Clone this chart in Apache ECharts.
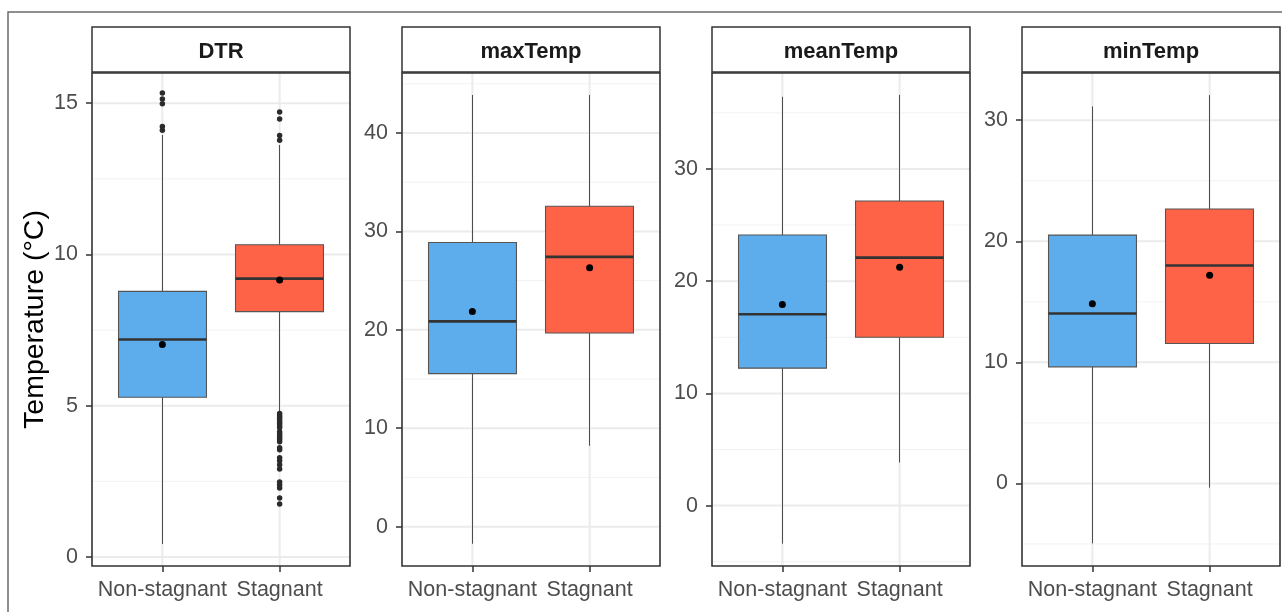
<!DOCTYPE html>
<html>
<head>
<meta charset="utf-8">
<script src="https://cdn.jsdelivr.net/npm/echarts@6/dist/echarts.min.js"></script>
<style>
html,body{margin:0;padding:0;background:#fff;}
#chart{width:1282px;height:612px;}
</style>
</head>
<body>
<div id="chart"></div>
<script>
// ---------------- data ----------------
const categories = ['Non-stagnant', 'Stagnant'];
const panelNames = ['DTR', 'maxTemp', 'meanTemp', 'minTemp'];

// per group: [lower whisker, Q1, median, Q3, upper whisker]
const dtrBox      = [[0.43, 5.28, 7.19, 8.78, 13.95], [4.77, 8.11, 9.20, 10.32, 13.62]];
const maxTempBox  = [[-1.74, 15.55, 20.86, 28.87, 43.87], [8.22, 19.68, 27.41, 32.56, 43.87]];
const meanTempBox = [[-3.39, 12.25, 17.05, 24.11, 36.43], [3.84, 15.00, 22.10, 27.14, 36.60]];
const minTempBox  = [[-4.95, 9.63, 14.04, 20.51, 31.14], [-0.35, 11.56, 18.00, 22.67, 32.08]];

const dtrMean      = [7.02, 9.16];
const maxTempMean  = [21.86, 26.30];
const meanTempMean = [17.93, 21.23];
const minTempMean  = [14.85, 17.20];

const dtrOutliersNonStagnant = [15.34, 15.14, 14.98, 14.23, 14.11];
const dtrOutliersStagnant = [14.71, 14.48, 13.93, 13.78,
  4.74, 4.67, 4.61, 4.54, 4.47, 4.41, 4.34, 4.27, 4.14, 4.07, 4.01, 3.94, 3.88, 3.81,
  3.61, 3.54, 3.28, 3.18, 3.05, 2.91, 2.48, 2.38, 2.28, 1.95, 1.75];

const dtrTicks      = [0, 5, 10, 15];
const maxTempTicks  = [0, 10, 20, 30, 40];
const meanTempTicks = [0, 10, 20, 30];
const minTempTicks  = [0, 10, 20, 30];

const dtrMinor      = [2.5, 7.5, 12.5];
const maxTempMinor  = [5, 15, 25, 35, 45];
const meanTempMinor = [-5, 5, 15, 25, 35];
const minTempMinor  = [-5, 5, 15, 25];

const dtrRange      = [-0.30, 16.00];
const maxTempRange  = [-4.00, 46.10];
const meanTempRange = [-5.38, 38.55];
const minTempRange  = [-6.82, 33.90];

const yTitle = 'Temperature (°C)';

// ---------------- assembly ----------------
const boxes = [dtrBox, maxTempBox, meanTempBox, minTempBox];
const means = [dtrMean, maxTempMean, meanTempMean, minTempMean];
const majors = [dtrTicks, maxTempTicks, meanTempTicks, minTempTicks];
const minors = [dtrMinor, maxTempMinor, meanTempMinor, minTempMinor];
const ranges = [dtrRange, maxTempRange, meanTempRange, minTempRange];
const outliers = [[dtrOutliersNonStagnant, dtrOutliersStagnant], [[], []], [[], []], [[], []]];

const FONT = '"Liberation Sans", Arial, Helvetica, sans-serif';
const fillColors = ['#5DADEC', '#FF6347'];
const L0 = 92, STEP = 310, PW = 258, TOP = 73, BOTTOM = 566, STRIP_TOP = 27;
const PH = BOTTOM - TOP;
const snap = v => Math.round(v - 0.5) + 0.5;

const grids = [], xAxes = [], yAxes = [], series = [], graphics = [];

// outer frame
graphics.push({type: 'rect', z: 0, shape: {x: 8, y: 12, width: 1290, height: 620},
  style: {fill: 'none', stroke: '#6b6b6b', lineWidth: 1.5}});

panelNames.forEach((name, i) => {
  const left = L0 + STEP * i;
  grids.push({left: left, top: TOP, width: PW, height: PH, show: false});
  xAxes.push({
    type: 'value', gridIndex: i, min: 0.4, max: 2.6, position: 'bottom',
    axisLine: {show: false, onZero: false},
    splitLine: {show: false},
    axisTick: {show: true, customValues: [1, 2], length: 6, lineStyle: {color: '#333', width: 1.5}},
    axisLabel: {show: true, customValues: [1, 2], margin: 13,
      formatter: v => categories[Math.round(v) - 1],
      color: '#4D4D4D', fontSize: 21.5, fontFamily: FONT}
  });
  const y = {
    type: 'value', gridIndex: i, min: ranges[i][0], max: ranges[i][1], position: 'left',
    axisLine: {show: false, onZero: false},
    splitLine: {show: false},
    axisTick: {show: true, customValues: majors[i], length: 6, lineStyle: {color: '#333', width: 1.5}},
    axisLabel: {show: true, customValues: majors[i], margin: 14,
      color: '#4D4D4D', fontSize: 21.5, fontFamily: FONT}
  };
  if (i === 0) {
    y.name = yTitle;
    y.nameLocation = 'middle';
    y.nameGap = 42;
    y.nameTextStyle = {color: '#000', fontSize: 28.5, fontFamily: FONT};
  }
  yAxes.push(y);

  // background grid lines: kind 0 = major, 1 = minor, 2 = vertical major
  const gridData = majors[i].map(v => [0, v])
    .concat(minors[i].map(v => [1, v]))
    .concat([1, 2].map(v => [2, v]));
  series.push({
    type: 'custom', xAxisIndex: i, yAxisIndex: i, z: 0, silent: true,
    data: gridData,
    renderItem: (params, api) => {
      const cs = params.coordSys;
      const kind = api.value(0), v = api.value(1);
      if (kind === 2) {
        const x = api.coord([v, ranges[i][0]])[0];
        return {type: 'line', shape: {x1: x, y1: cs.y, x2: x, y2: cs.y + cs.height},
          style: {stroke: '#EBEBEB', lineWidth: 2}};
      }
      const yy = api.coord([1, v])[1];
      return {type: 'line', shape: {x1: cs.x, y1: yy, x2: cs.x + cs.width, y2: yy},
        style: {stroke: kind === 0 ? '#EBEBEB' : '#F2F2F2', lineWidth: kind === 0 ? 2 : 1}};
    }
  });

  // boxes
  series.push({
    type: 'custom', xAxisIndex: i, yAxisIndex: i, z: 5, silent: true,
    data: categories.map((c, j) => [j + 1].concat(boxes[i][j])),
    renderItem: (params, api) => {
      const xv = api.value(0);
      const lo = api.coord([xv, api.value(1)]);
      const q1 = api.coord([xv, api.value(2)]);
      const md = api.coord([xv, api.value(3)]);
      const q3 = api.coord([xv, api.value(4)]);
      const hi = api.coord([xv, api.value(5)]);
      const w = api.size([0.75, 0])[0];
      const xc = snap(lo[0]);
      const x0 = xc - w / 2;
      return {type: 'group', children: [
        {type: 'line', shape: {x1: xc, y1: hi[1], x2: xc, y2: q3[1]},
          style: {stroke: '#4d4d4d', lineWidth: 1}},
        {type: 'line', shape: {x1: xc, y1: lo[1], x2: xc, y2: q1[1]},
          style: {stroke: '#4d4d4d', lineWidth: 1}},
        {type: 'rect', shape: {x: x0, y: q3[1], width: w, height: q1[1] - q3[1]},
          style: {fill: fillColors[params.dataIndex], stroke: '#555', lineWidth: 1.1}},
        {type: 'line', shape: {x1: x0, y1: md[1], x2: x0 + w, y2: md[1]},
          style: {stroke: '#333', lineWidth: 2.6}}
      ]};
    }
  });

  // outliers
  const od = [];
  outliers[i].forEach((arr, j) => arr.forEach(v => od.push([j + 1, v])));
  if (od.length) {
    series.push({type: 'scatter', xAxisIndex: i, yAxisIndex: i, z: 6, silent: true,
      symbol: 'circle', symbolSize: 5.5, data: od, itemStyle: {color: '#2b2b2b', opacity: 1}});
  }
  // means
  series.push({type: 'scatter', xAxisIndex: i, yAxisIndex: i, z: 7, silent: true,
    symbol: 'circle', symbolSize: 7, data: means[i].map((m, j) => [j + 1, m]),
    itemStyle: {color: '#000', opacity: 1}});

  // strip
  graphics.push({type: 'rect', z: 50,
    shape: {x: left, y: STRIP_TOP, width: PW, height: TOP - STRIP_TOP - 1},
    style: {fill: '#fff', stroke: '#333', lineWidth: 1.5}});
  graphics.push({type: 'text', z: 51,
    style: {text: name, x: left + PW / 2, y: (STRIP_TOP + TOP) / 2 + 1.5,
      align: 'center', verticalAlign: 'middle',
      fontSize: 22, fontWeight: 'bold', fontFamily: FONT, fill: '#1A1A1A'}});
  // panel border on top
  graphics.push({type: 'rect', z: 100,
    shape: {x: left, y: TOP, width: PW, height: PH},
    style: {fill: 'none', stroke: '#333', lineWidth: 1.6}});
});

const chart = echarts.init(document.getElementById('chart'), null, {renderer: 'canvas'});
chart.setOption({
  animation: false,
  backgroundColor: '#fff',
  textStyle: {fontFamily: FONT},
  grid: grids,
  xAxis: xAxes,
  yAxis: yAxes,
  series: series,
  graphic: {elements: graphics}
});
</script>
</body>
</html>
